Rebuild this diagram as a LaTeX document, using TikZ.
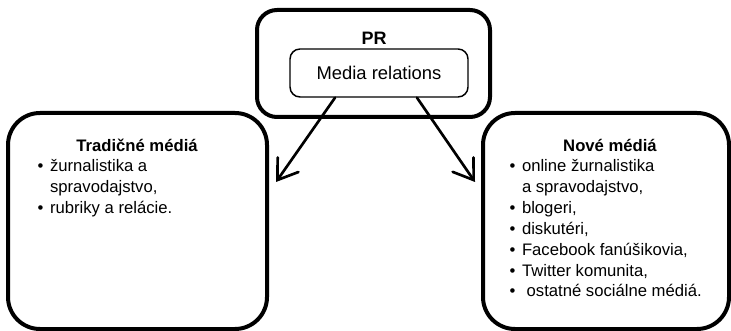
\documentclass[tikz,border=0pt]{standalone}
\usepackage{fontspec}
\setmainfont{Liberation Sans}
\usetikzlibrary{arrows.meta}

\tikzset{every picture/.style={line width=0.75pt}}
\tikzset{
  bigbox/.style={draw, rounded corners=24pt, line width=3pt, inner sep=0pt, minimum height=162pt},
  prbox/.style={draw, rounded corners=15pt, line width=3pt, inner sep=0pt, minimum width=174.75pt, minimum height=80.25pt},
  mediabox/.style={draw, rounded corners=7.5pt, line width=1.1pt, inner sep=0pt, minimum width=133.5pt, minimum height=36pt, font=\fontsize{13.8}{16}\selectfont},
  boxtext/.style={inner sep=0pt, font=\fontsize{12.5}{15.6}\selectfont},
  headtext/.style={inner sep=0pt, font=\fontsize{12.5}{15.6}\selectfont\bfseries},
  linkarrow/.style={line width=2pt, line cap=round, -{Straight Barb[length=14pt,width=19pt,line cap=round]}},
}

\begin{document}
\begin{tikzpicture}[x=0.75pt,y=0.75pt,yscale=-1,xscale=1]
\useasboundingbox (0,0) rectangle (731,331);

%Rounded Rect [PR]
\node [prbox] (pr) at (373.5,63.5) {};
% Text Node
\node [headtext, font=\fontsize{13.5}{16}\selectfont\bfseries, anchor=base] (prlabel) at (374,45) {PR};
%Rounded Rect [Media relations]
\node [mediabox] (media) at (379,73) {Media relations};

%Rounded Rect [left]
\node [bigbox, minimum width=194.25pt] (trad) at (137.5,221) {};
%Rounded Rect [right]
\node [bigbox, minimum width=184.5pt] (nove) at (606,221) {};

% Text Node
\node [headtext, anchor=base] (tradtitle) at (137,152) {Tradičné médiá};
% Text Node
\node [boxtext, anchor=base west] (tradlist) at (37,172) {\begin{tabular}[t]{@{}l@{\hspace{5pt}}l@{}}
\textbullet & žurnalistika a\\
 & spravodajstvo,\\
\textbullet & rubriky a relácie.
\end{tabular}};

% Text Node
\node [headtext, anchor=base] (novetitle) at (610,152) {Nové médiá};
% Text Node
\node [boxtext, anchor=base west] (novelist) at (509,172) {\begin{tabular}[t]{@{}l@{\hspace{5pt}}l@{}}
\textbullet & online žurnalistika\\
 & a spravodajstvo,\\
\textbullet & blogeri,\\
\textbullet & diskutéri,\\
\textbullet & Facebook fanúšikovia,\\
\textbullet & Twitter komunita,\\
\textbullet & \hspace{3.5pt}ostatné sociálne médiá.
\end{tabular}};

%Straight Lines
\coordinate (tradtip) at (276,182);
\coordinate (novetip) at (475,182);
\draw [linkarrow] ([xshift=-33pt]media.south) -- (tradtip);
\draw [linkarrow] ([xshift=28.5pt]media.south) -- (novetip);

\end{tikzpicture}
\end{document}
